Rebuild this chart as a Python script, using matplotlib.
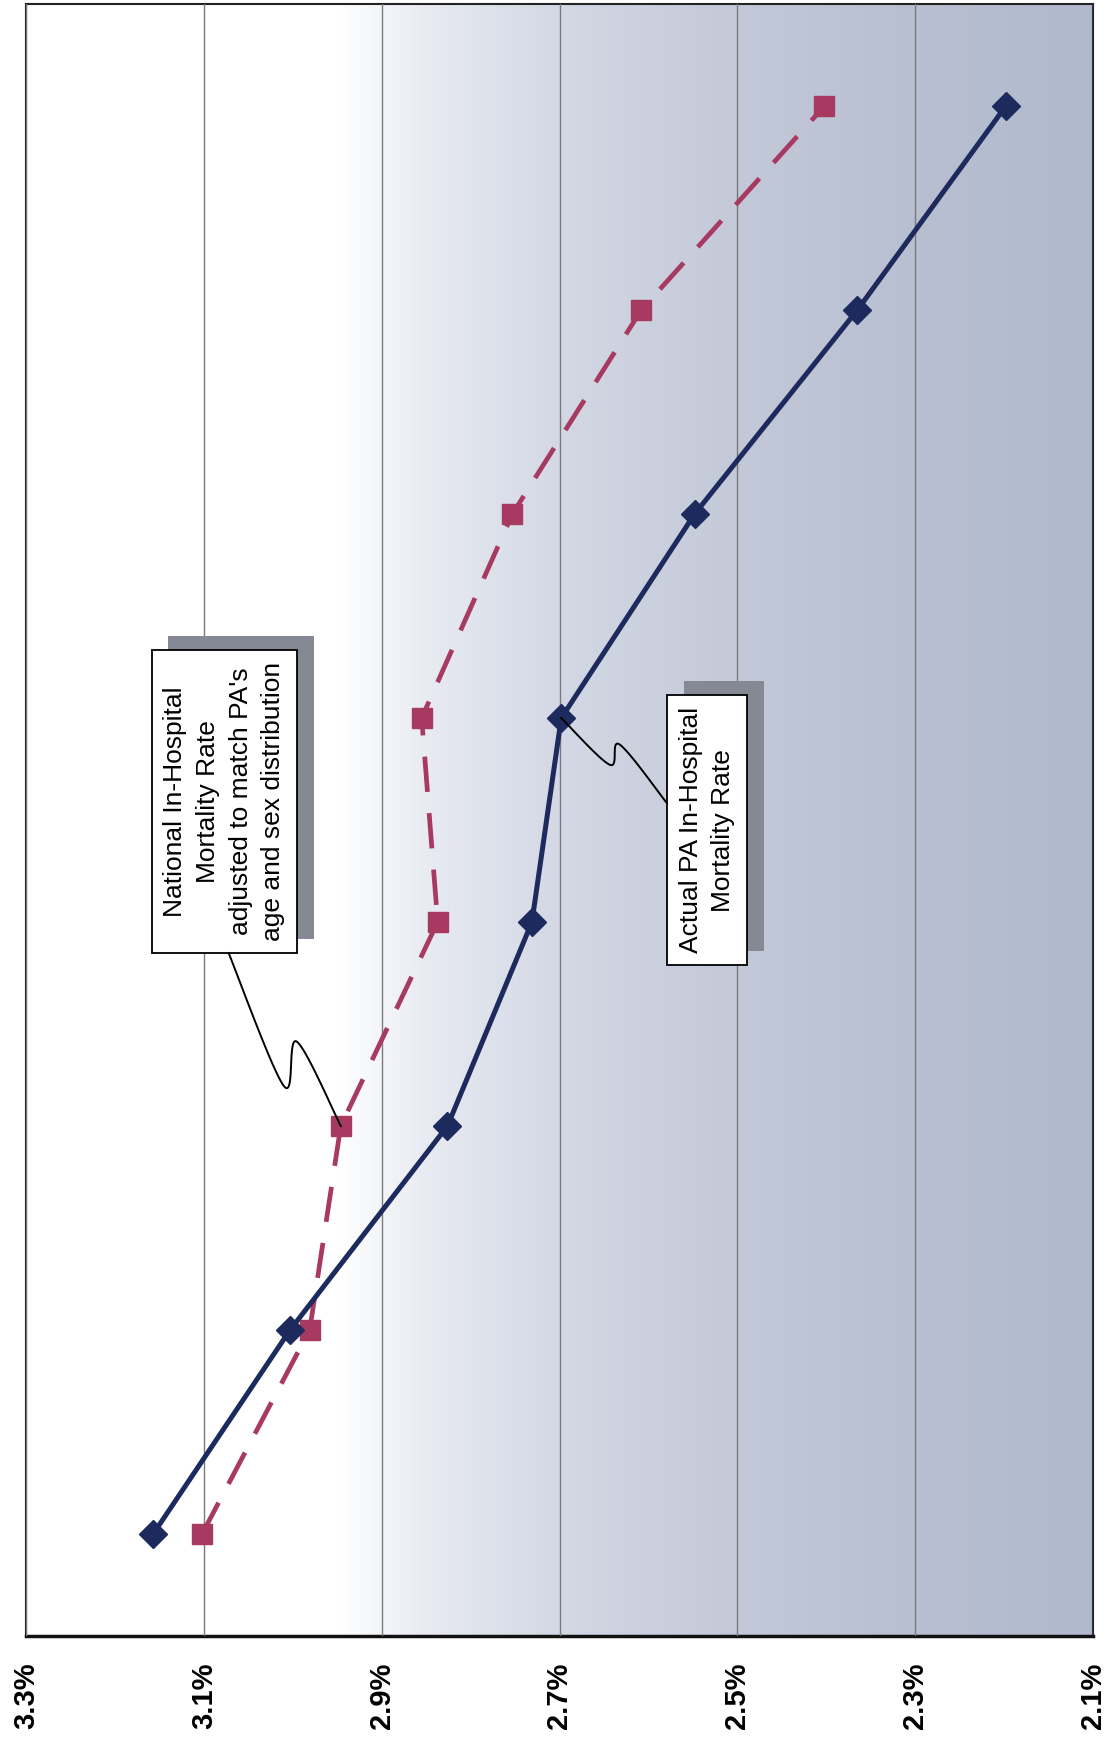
import numpy as np
import matplotlib
matplotlib.use('Agg')
from matplotlib import pyplot as plt
from matplotlib import patheffects as pe
from matplotlib.lines import Line2D

# categories (bottom -> top in the rotated page) and rates in %
positions = [1, 2, 3, 4, 5, 6, 7, 8]
actual_pa = [3.157, 3.003, 2.826, 2.731, 2.698, 2.548, 2.365, 2.198]
national_adj = [3.102, 2.981, 2.946, 2.837, 2.855, 2.753, 2.608, 2.402]
ticks = [3.3, 3.1, 2.9, 2.7, 2.5, 2.3, 2.1]
tick_labels = ['3.3%', '3.1%', '2.9%', '2.7%', '2.5%', '2.3%', '2.1%']

label_national = 'National In-Hospital\nMortality Rate\nadjusted to match PA\'s\nage and sex distribution'
label_actual = 'Actual PA In-Hospital\nMortality Rate'

BLUE = '#1d2a5e'
RED = '#a83a62'
DPI = 100

plt.rcParams['font.family'] = ['Liberation Sans', 'DejaVu Sans']

fig = plt.figure(figsize=(11.10, 17.42), dpi=DPI)
ax = fig.add_axes([26 / 1110, 1 - 1636 / 1742, 1067 / 1110, 1632 / 1742])

# background gradient: white on the high-rate side, grey-blue on the low side
xs = np.linspace(3.3, 2.1, 500)
stop_x = [2.1, 2.3, 2.5, 2.7, 2.85, 2.95, 3.3]
stop_r = [176, 184, 195, 211, 232, 255, 255]
stop_g = [185, 191, 201, 216, 235, 255, 255]
stop_b = [205, 209, 216, 228, 242, 255, 255]
grad = np.stack([np.interp(xs, stop_x, stop_r),
                 np.interp(xs, stop_x, stop_g),
                 np.interp(xs, stop_x, stop_b)], axis=-1)[None, :, :] / 255.0
ax.imshow(grad, extent=(3.3, 2.1, 0.5, 8.5), aspect='auto', zorder=0,
          interpolation='bilinear')

ax.set_xlim(3.3, 2.1)
ax.set_ylim(0.5, 8.5)
ax.set_xticks(ticks)
ax.set_xticklabels(tick_labels, rotation=90, fontsize=21, fontweight='bold')
ax.tick_params(axis='x', length=0, pad=19)
ax.set_yticks([])
ax.grid(axis='x', color='#7a7a7a', linewidth=1.0, zorder=1)
ax.set_axisbelow(False)
for side in ['left', 'right', 'top']:
    ax.spines[side].set_linewidth(1.5)
    ax.spines[side].set_color('#222222')
ax.spines['bottom'].set_linewidth(2.5)
ax.spines['bottom'].set_color('#111111')

ax.plot(national_adj, positions, color=RED, linewidth=3.4, dashes=(7.5, 4.5),
        marker='s', markersize=15, markerfacecolor=RED, markeredgecolor=RED, zorder=3)
ax.plot(actual_pa, positions, color=BLUE, linewidth=3.6,
        marker='D', markersize=14, markerfacecolor=BLUE, markeredgecolor=BLUE, zorder=4)

box_kw = dict(boxstyle='square,pad=0.45', fc='white', ec='black', lw=1.3)
t1 = ax.text(3.077, 4.59, label_national, rotation=90, ha='center', va='center',
             multialignment='center', fontsize=19, linespacing=1.45,
             bbox=box_kw, zorder=6)
t2 = ax.text(2.534, 4.45, label_actual, rotation=90, ha='center', va='center',
             multialignment='center', fontsize=19, linespacing=1.45,
             bbox=box_kw, zorder=6)
for t in (t1, t2):
    t.get_bbox_patch().set_path_effects(
        [pe.withSimplePatchShadow(offset=(12, 10), shadow_rgbFace='#848993', alpha=1.0)])

fig.canvas.draw()


def catmull(pts, n=30):
    pts = np.asarray(pts, float)
    ext = np.vstack([pts[0], pts, pts[-1]])
    out = []
    for i in range(1, len(ext) - 2):
        p0, p1, p2, p3 = ext[i - 1], ext[i], ext[i + 1], ext[i + 2]
        for s in np.linspace(0, 1, n, endpoint=False):
            out.append(0.5 * ((2 * p1) + (-p0 + p2) * s +
                              (2 * p0 - 5 * p1 + 4 * p2 - p3) * s ** 2 +
                              (-p0 + 3 * p1 - 3 * p2 + p3) * s ** 3))
    out.append(pts[-1])
    return np.array(out)


def squiggle(start, end, bends):
    start = np.asarray(start, float)
    end = np.asarray(end, float)
    d = end - start
    length = np.hypot(*d)
    u = d / length
    nrm = np.array([-u[1], u[0]])
    pts = [start] + [start + t * d + o * nrm for t, o in bends] + [end]
    curve = catmull(pts)
    fig.add_artist(Line2D(curve[:, 0] / fig.bbox.width, curve[:, 1] / fig.bbox.height,
                          transform=fig.transFigure, color='black', lw=1.4, zorder=7))


b1 = t1.get_bbox_patch().get_window_extent()
b2 = t2.get_bbox_patch().get_window_extent()
p_red = ax.transData.transform((national_adj[2], positions[2]))
p_blue = ax.transData.transform((actual_pa[4], positions[4]))
squiggle((b1.x0 + 0.53 * b1.width, b1.y0), p_red, [(0.687, -26), (0.54, 9)])
squiggle(p_blue, (b2.x0, b2.y0 + 0.6 * b2.height), [(0.494, -6), (0.457, 16)])

fig.savefig('out.png', dpi=DPI, facecolor='white')
